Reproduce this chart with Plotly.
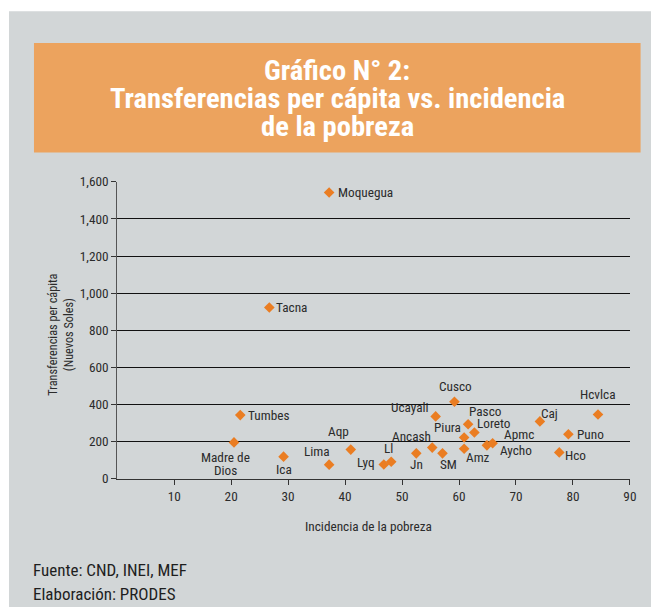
import plotly.graph_objects as go

# ---- data ----
regions = ["Moquegua", "Tacna", "Tumbes", "Madre de<br>Dios", "Ica", "Lima", "Aqp", "Lyq", "Ll",
           "Jn", "Ancash", "SM", "Ucayali", "Cusco", "Piura", "Pasco", "Loreto", "Amz",
           "Aycho", "Apmc", "Caj", "Hco", "Puno", "Hcvlca"]
pobreza = [37.2, 26.7, 21.6, 20.5, 29.2, 37.2, 41.0, 46.8, 48.1,
           52.5, 55.3, 57.1, 55.9, 59.2, 60.9, 61.6, 62.7, 60.9,
           64.9, 65.9, 74.2, 77.6, 79.2, 84.4]
transferencias = [1542, 923, 343, 196, 119, 76, 157, 77, 92,
                  137, 168, 137, 336, 415, 222, 294, 249, 162,
                  180, 191, 309, 142, 240, 346]
x_ticks = [10, 20, 30, 40, 50, 60, 70, 80, 90]
y_ticks = [0, 200, 400, 600, 800, 1000, 1200, 1400, 1600]

# label offsets in pixels (style): (dx, dy) with dy positive = down
label_offsets = [(36, 0), (22, 0), (28, 0), (-8, 21), (0, 12), (-12, -13), (-12, -18), (-18, -2), (-3, -13),
                 (0, 11), (-21, -11), (6, 11), (-25, -9), (1, -15), (-16, -10), (17, -12), (19, -9), (14, 9),
                 (29, 5), (26, -9), (10, -8), (16, 3), (22, 0), (0, -19)]
LABEL_LINE_GAP = 13

W, H = 658, 615
# page capture compensation (the captured page is slightly larger than the figure)
SX, SY, OY = 0.99, 0.971, 7.77
FONT = "Roboto Condensed, Liberation Sans, sans-serif"
TXT = "#2b2b2b"


def px(x):
    return (x / SX) / W


def py(y):
    return 1 - ((y - OY) / SY) / H


def fs(s):
    return s / ((SX + SY) / 2)


fig = go.Figure()
fig.add_trace(go.Scatter(
    x=pobreza, y=transferencias, mode="markers",
    marker=dict(symbol="diamond", size=fs(8), color="#ea7d22"),
    hoverinfo="x+y", showlegend=False,
))

annotations = []
for name, xv, yv, (dx, dy) in zip(regions, pobreza, transferencias, label_offsets):
    lines = name.split("<br>")
    n = len(lines)
    for k, line in enumerate(lines):
        ldy = dy + (k - (n - 1) / 2) * LABEL_LINE_GAP
        annotations.append(dict(
            x=xv, y=yv, xref="x", yref="y", text=line, showarrow=False,
            xanchor="center", yanchor="middle", xshift=dx / SX, yshift=-ldy / SY,
            font=dict(family=FONT, size=fs(13), color=TXT),
        ))

# title lines
title_lines = ["Gráfico N° 2:", "Transferencias per cápita vs. incidencia", "de la pobreza"]
for i, line in enumerate(title_lines):
    annotations.append(dict(
        x=px(337.5), y=py(71 + 28 * i), xref="paper", yref="paper", text="<b>%s</b>" % line,
        showarrow=False, xanchor="center", yanchor="middle",
        font=dict(family=FONT, size=fs(28), color="white"),
    ))

# axis titles
annotations.append(dict(
    x=px(369), y=py(525), xref="paper", yref="paper", text="Incidencia de la pobreza",
    showarrow=False, xanchor="center", yanchor="middle",
    font=dict(family=FONT, size=fs(13), color=TXT),
))
annotations.append(dict(
    x=px(61), y=py(334), xref="paper", yref="paper",
    text="Transferencias per cápita<br>(Nuevos Soles)", textangle=-90,
    showarrow=False, xanchor="center", yanchor="middle",
    font=dict(family=FONT, size=fs(12), color=TXT),
))
# source notes
for i, line in enumerate(["Fuente: CND, INEI, MEF", "Elaboración: PRODES"]):
    annotations.append(dict(
        x=px(31.5), y=py(567.7 + 24 * i), xref="paper", yref="paper", text=line,
        showarrow=False, xanchor="left", yanchor="middle",
        font=dict(family=FONT, size=fs(16.7), color="#1e1e1e"),
    ))

GRAY = "#d2d6d7"
shapes = [
    dict(type="rect", xref="paper", yref="paper", x0=px(9), x1=1, y0=0, y1=py(12),
         fillcolor=GRAY, line=dict(width=0), layer="below"),
    dict(type="rect", xref="paper", yref="paper", x0=px(34), x1=px(641), y0=py(152.7), y1=py(43.7),
         fillcolor="#eca35e", line=dict(width=0), layer="below"),
]

fig.update_layout(
    width=W, height=H,
    margin=dict(l=0, r=0, t=0, b=0),
    paper_bgcolor="white", plot_bgcolor="rgba(0,0,0,0)",
    font=dict(family=FONT, size=fs(13), color=TXT),
    xaxis=dict(
        domain=[px(117.3), px(630.3)], range=[0, 90],
        tickvals=x_ticks, ticktext=[str(v) for v in x_ticks],
        ticks="outside", ticklen=5, tickcolor="#333", showgrid=False, zeroline=False,
        showline=True, linecolor="#333", linewidth=1,
        tickfont=dict(family=FONT, size=fs(13), color=TXT), fixedrange=True,
    ),
    yaxis=dict(
        domain=[py(477.3), py(181.7)], range=[0, 1600],
        tickvals=y_ticks, tickformat=",",
        ticks="outside", ticklen=5, tickcolor="#333", showgrid=True, gridcolor="#111", gridwidth=1,
        zeroline=False, showline=True, linecolor="#555", linewidth=1,
        tickfont=dict(family=FONT, size=fs(13), color=TXT), fixedrange=True,
    ),
    annotations=annotations, shapes=shapes,
)

post = ("document.documentElement.style.margin='0';document.documentElement.style.padding='0';"
        "document.body.style.margin='0';document.body.style.padding='0';"
        "document.documentElement.style.background='linear-gradient(#ffffff 0px, #ffffff 8px, " + GRAY + " 8px)';"
        "document.body.style.background='transparent';")
fig.write_html("out.html", config={"displayModeBar": False, "staticPlot": True}, post_script=post)
